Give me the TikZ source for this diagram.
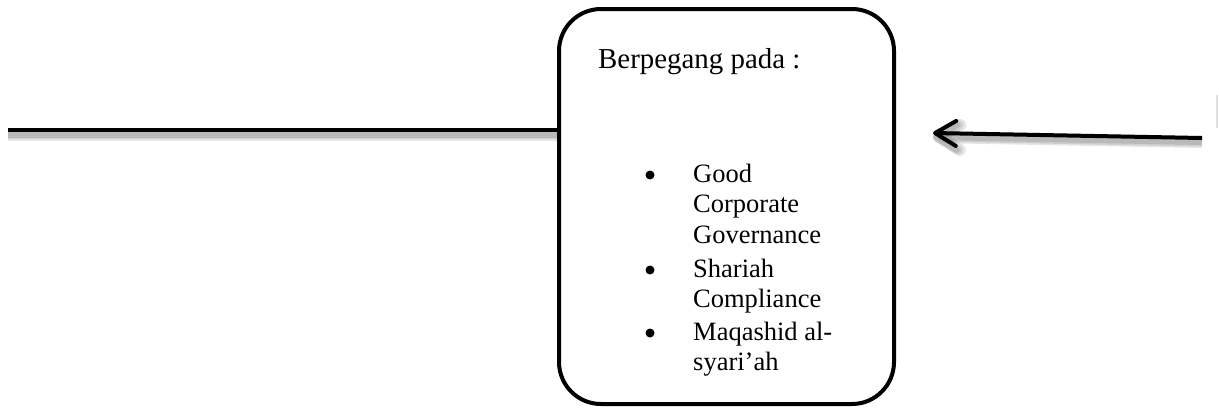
\documentclass[tikz,border=0pt]{standalone}
\usepackage{fontspec}
\setmainfont{Liberation Serif}
\usetikzlibrary{arrows.meta}
\tikzset{
  heavy/.style={line width=4.5bp, line cap=butt},
  shadowline/.style={draw=black, line width=#1, opacity=0.10},
  roundbox/.style={draw=black, line width=4bp, rounded corners=42bp, minimum width=335bp, minimum height=395bp, inner sep=0pt},
  headtext/.style={anchor=base west, inner sep=0pt, font=\fontsize{29}{33}\selectfont},
  itemtext/.style={anchor=base west, inner sep=0pt, font=\fontsize{26.6}{30.6}\selectfont},
  bulletdot/.style={circle, fill=black, inner sep=0pt, minimum size=9bp},
  chev/.style={-{Straight Barb[length=21bp,width=25bp,line join=round,line cap=round]}}
}
\begin{document}
\begin{tikzpicture}[x=1bp,y=-1bp]
\useasboundingbox (0,0) rectangle (1219,410);
% box
\node[roundbox] (box) at (726.5,206.5) {};
% left line
\coordinate (lstart) at (8,130);
\coordinate (lend) at (lstart -| box.west);
\foreach \w in {13bp,10bp,7bp}{
  \draw[shadowline=\w] ([yshift=-4bp]lstart) -- ([yshift=-4bp]lend);
}
\draw[heavy] (lstart) -- (lend);
% right arrow
\coordinate (astart) at (1202,138);
\coordinate (atip) at (933,133);
\foreach \w in {12bp,9bp,6bp}{
  \draw[shadowline=\w, chev] ([yshift=-4bp]astart) -- ([yshift=-4bp]atip);
}
\draw[line width=4bp, chev] (astart) -- (atip);
% faint edge at right
\coordinate (g1) at (1217,95);
\coordinate (g2) at (1217,128);
\draw[black!12, line width=1.5bp] (g1) -- (g2);
% texts
\node[headtext] (head) at (598,68) {Berpegang pada :};
\node[bulletdot] (b1) at (650,175) {};
\node[itemtext] (t1) at (693,182) {Good};
\node[itemtext] (t2) at (693,212.6) {Corporate};
\node[itemtext] (t3) at (693,243.2) {Governance};
\node[bulletdot] (b2) at (650,270) {};
\node[itemtext] (t4) at (693,277) {Shariah};
\node[itemtext] (t5) at (693,307.6) {Compliance};
\node[bulletdot] (b3) at (650,333) {};
\node[itemtext] (t6) at (693,340) {Maqashid al-};
\node[itemtext] (t7) at (693,370.6) {syari’ah};
\end{tikzpicture}
\end{document}
